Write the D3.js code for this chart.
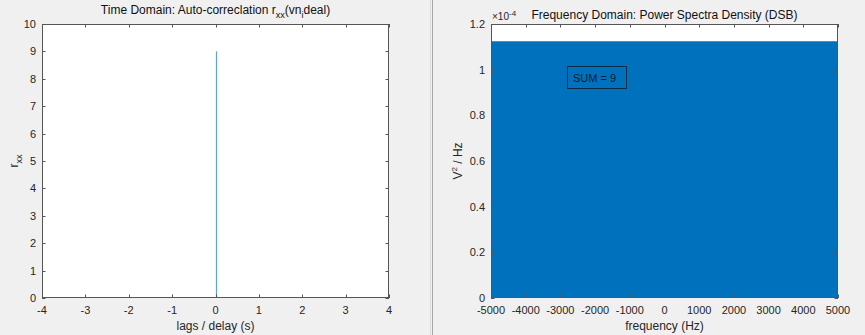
<!DOCTYPE html>
<html>
<head>
<meta charset="utf-8">
<script src="https://cdn.jsdelivr.net/npm/d3@7"></script>
<style>
  html, body { margin: 0; padding: 0; background: #f0f0f0; }
  svg { display: block; font-family: "Liberation Sans", Arial, sans-serif; }
</style>
</head>
<body>
<svg id="chart" width="865" height="335"></svg>
<script>
// left panel: auto-correlation of the ideal noise (one spike at lag 0)
const lagTicks = [-4, -3, -2, -1, 0, 1, 2, 3, 4];
const rxxTicks = [0, 1, 2, 3, 4, 5, 6, 7, 8, 9, 10];
const lags = [0];
const rxx = [9];

// right panel: flat double-sided PSD
const freqTicks = [-5000, -4000, -3000, -2000, -1000, 0, 1000, 2000, 3000, 4000, 5000];
const psdTicks = [0, 0.2e-4, 0.4e-4, 0.6e-4, 0.8e-4, 1e-4, 1.2e-4];
const freqs = [-5000, 5000];
const psd = [1.125e-4, 1.125e-4];
const sumLabel = "SUM = 9";

const svg = d3.select("#chart");
const axisColor = "#555";
const blue = "#0072bd";

// panel separator
svg.append("line").attr("x1", 430.5).attr("x2", 430.5).attr("y1", 0).attr("y2", 335).attr("stroke", "#dcdcdc");
svg.append("line").attr("x1", 432.5).attr("x2", 432.5).attr("y1", 0).attr("y2", 335).attr("stroke", "#a8a8a8");

function drawBox(g, x, y, xt, yt, xFmt, yFmt) {
  const [x0, x1] = x.range();
  const [y0, y1] = y.range();
  g.append("rect").attr("x", x0).attr("y", y1).attr("width", x1 - x0).attr("height", y0 - y1)
    .attr("fill", "#fff");
  return function finish() {
    const tk = 3.5;
    const ticks = g.append("g").attr("stroke", axisColor).attr("stroke-width", 1);
    xt.forEach(v => {
      const px = Math.round(x(v)) + 0.5;
      ticks.append("line").attr("x1", px).attr("x2", px).attr("y1", y0).attr("y2", y0 - tk);
      ticks.append("line").attr("x1", px).attr("x2", px).attr("y1", y1).attr("y2", y1 + tk);
    });
    yt.forEach(v => {
      const py = Math.round(y(v)) + 0.5;
      ticks.append("line").attr("x1", x0).attr("x2", x0 + tk).attr("y1", py).attr("y2", py);
      ticks.append("line").attr("x1", x1).attr("x2", x1 - tk).attr("y1", py).attr("y2", py);
    });
    g.append("rect").attr("x", x0 + 0.5).attr("y", y1 + 0.5)
      .attr("width", x1 - x0 - 1).attr("height", y0 - y1 - 1)
      .attr("fill", "none").attr("stroke", axisColor).attr("stroke-width", 1);
    g.append("g").selectAll("text").data(xt).join("text")
      .attr("x", d => x(d)).attr("y", y0 + 16)
      .attr("text-anchor", "middle").attr("font-size", 11).attr("fill", "#262626")
      .text(xFmt);
    g.append("g").selectAll("text").data(yt).join("text")
      .attr("x", x0 - 6).attr("y", d => y(d) + 4)
      .attr("text-anchor", "end").attr("font-size", 11).attr("fill", "#262626")
      .text(yFmt);
  };
}

// ---------- left: time domain ----------
{
  const x = d3.scaleLinear().domain([-4, 4]).range([42, 389]);
  const y = d3.scaleLinear().domain([0, 10]).range([298, 24]);
  const g = svg.append("g");
  const finish = drawBox(g, x, y, lagTicks, rxxTicks, d => d, d => d);

  g.append("g").selectAll("line").data(lags).join("line")
    .attr("x1", d => Math.round(x(d)) + 0.5).attr("x2", d => Math.round(x(d)) + 0.5)
    .attr("y1", y(0)).attr("y2", (d, i) => y(rxx[i]))
    .attr("stroke", "#5aa3d8").attr("stroke-width", 1.2);

  finish();

  const t = g.append("text").attr("x", 215.5).attr("y", 14).attr("text-anchor", "middle")
    .attr("font-size", 12).attr("fill", "#111");
  t.append("tspan").text("Time Domain: Auto-correclation r");
  t.append("tspan").attr("font-size", 9).attr("dy", 4).text("xx");
  t.append("tspan").attr("dy", -4).text("(vn");
  t.append("tspan").attr("font-size", 9).attr("dy", 4).text("i");
  t.append("tspan").attr("dy", -4).text("deal)");

  g.append("text").attr("x", 215.5).attr("y", 330).attr("text-anchor", "middle")
    .attr("font-size", 12).attr("fill", "#262626").text("lags / delay (s)");

  const yl = g.append("text").attr("transform", "translate(18,161) rotate(-90)")
    .attr("text-anchor", "middle").attr("font-size", 12).attr("fill", "#262626");
  yl.append("tspan").text("r");
  yl.append("tspan").attr("font-size", 9).attr("dy", 4).text("xx");
}

// ---------- right: frequency domain ----------
{
  const x = d3.scaleLinear().domain([-5000, 5000]).range([491, 838]);
  const y = d3.scaleLinear().domain([0, 1.2e-4]).range([298, 24]);
  const g = svg.append("g");
  const fmtY = d => d3.format("~g")(+(d * 1e4).toFixed(2));
  const finish = drawBox(g, x, y, freqTicks, psdTicks, d => d, fmtY);

  const area = d3.area().x(d => x(d[0])).y0(y(0)).y1(d => y(d[1]));
  g.append("path").datum(freqs.map((f, i) => [f, psd[i]]))
    .attr("d", area).attr("fill", blue);

  finish();

  // SUM annotation box
  g.append("rect").attr("x", 567.5).attr("y", 66.5).attr("width", 59).attr("height", 22)
    .attr("fill", "none").attr("stroke", "#0b2a45").attr("stroke-width", 1);
  g.append("text").attr("x", 573).attr("y", 82).attr("font-size", 11).attr("fill", "#0b1d30")
    .text(sumLabel);

  // exponent
  const ex = g.append("text").attr("x", 492).attr("y", 20).attr("font-size", 10).attr("fill", "#262626");
  ex.append("tspan").text("\u00d710");
  ex.append("tspan").attr("font-size", 8).attr("dy", -4).text("-4");

  g.append("text").attr("x", 664.5).attr("y", 19).attr("text-anchor", "middle")
    .attr("font-size", 12).attr("fill", "#111").text("Frequency Domain: Power Spectra Density (DSB)");

  g.append("text").attr("x", 664.5).attr("y", 330).attr("text-anchor", "middle")
    .attr("font-size", 12).attr("fill", "#262626").text("frequency (Hz)");

  const yl = g.append("text").attr("transform", "translate(462,161) rotate(-90)")
    .attr("text-anchor", "middle").attr("font-size", 12).attr("fill", "#262626");
  yl.append("tspan").text("V");
  yl.append("tspan").attr("font-size", 8).attr("dy", -5).text("2");
  yl.append("tspan").attr("dy", 5).text(" / Hz");
}
</script>
</body>
</html>
